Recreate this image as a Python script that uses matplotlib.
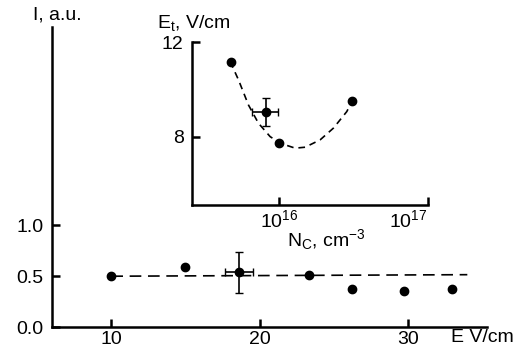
import matplotlib
matplotlib.use("Agg")
import matplotlib.pyplot as plt
import numpy as np

plt.rcParams['font.family'] = ['Liberation Sans', 'DejaVu Sans']
plt.rcParams['mathtext.fontset'] = 'custom'
plt.rcParams['mathtext.rm'] = 'Liberation Sans'
plt.rcParams['mathtext.it'] = 'Liberation Sans:italic'
plt.rcParams['font.size'] = 14

# main plot: intensity vs field
E = [10, 15.0, 18.6, 23.3, 26.2, 29.75, 33.0]
I = [0.50, 0.59, 0.54, 0.51, 0.37, 0.36, 0.37]
err_idx = 2
E_err = 0.95
I_err = 0.20
fit_E = [10, 34.0]
fit_I = [0.50, 0.515]

# inset: threshold field vs concentration
Nc = [4.7e15, 8.1e15, 1.0e16, 3.1e16]
Et = [11.17, 9.03, 7.72, 9.53]
Nc_err_lo = 6.5e15
Nc_err_hi = 9.8e15
Et_err = 0.6
curve_logN = [15.668, 15.724, 15.791, 15.858, 15.937, 16.005, 16.106,
              16.173, 16.274, 16.364, 16.454, 16.488]
curve_Et = [11.18, 10.40, 9.34, 8.57, 8.00, 7.72, 7.51,
            7.55, 7.86, 8.36, 9.06, 9.48]

fig = plt.figure(figsize=(5.23, 3.58), dpi=100)

ax = fig.add_axes([0.0994, 0.0858, 0.8310, 0.8388])
ax.plot(fit_E, fit_I, color='black', lw=1.2, dashes=(7, 4))
ax.plot(E, I, 'o', color='black', ms=6)
ax.errorbar(E[err_idx], I[err_idx], xerr=E_err, yerr=I_err, fmt='none',
            ecolor='black', elinewidth=1.2, capsize=3)
ax.set_xlim(6, 35.3)
ax.set_ylim(0, 2.94)
ax.set_xticks([10, 20, 30])
ax.set_yticks([0, 0.5, 1.0])
ax.set_yticklabels(['0.0', '0.5', '1.0'])
for s in ['top', 'right']:
    ax.spines[s].set_visible(False)
for s in ['left', 'bottom']:
    ax.spines[s].set_linewidth(1.8)
ax.tick_params(direction='in', length=6, width=1.8, labelsize=14)
ax.tick_params(axis='x', pad=3)
ax.tick_params(axis='y', pad=6)

fig.text(451 / 523, 1 - 337 / 358, 'E V/cm', ha='left', va='center', fontsize=14)
fig.text(57 / 523, 1 - 15 / 358, 'I, a.u.', ha='center', va='center', fontsize=14)

# inset
ins = fig.add_axes([0.3671, 0.4274, 0.4507, 0.4545])
ins.set_xscale('log')
ins.plot(10 ** np.array(curve_logN), curve_Et, color='black', lw=1.2, dashes=(4, 3))
ins.plot(Nc, Et, 'o', color='black', ms=6)
ins.errorbar(Nc[1], Et[1], xerr=[[Nc[1] - Nc_err_lo], [Nc_err_hi - Nc[1]]],
             yerr=Et_err, fmt='none', ecolor='black', elinewidth=1.2, capsize=3)
ins.set_xlim(10 ** 15.41, 1e17)
ins.set_ylim(5.1, 12)
ins.set_xticks([1e16, 1e17])
ins.set_xticklabels([r'10$^{16}$', r'10$^{17}$'])
ins.xaxis.set_minor_locator(matplotlib.ticker.NullLocator())
ins.set_yticks([8, 12])
for s in ['top', 'right']:
    ins.spines[s].set_visible(False)
for s in ['left', 'bottom']:
    ins.spines[s].set_linewidth(1.8)
ins.tick_params(direction='in', length=6, width=1.8, labelsize=14)
ins.tick_params(axis='x', pad=3)
ins.tick_params(axis='y', pad=6)
ins.get_xticklabels()[1].set_horizontalalignment('right')

fig.text(157 / 523, 1 - 23 / 358, r'E$_\mathrm{t}$, V/cm', ha='left', va='center', fontsize=14)
fig.text(326 / 523, 1 - 240 / 358, r'N$_\mathrm{C}$, cm$^{-3}$', ha='center', va='center', fontsize=14)

fig.savefig('out.png', dpi=100)
